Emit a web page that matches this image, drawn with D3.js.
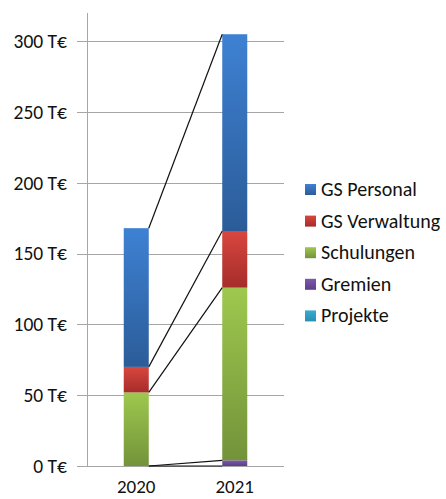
<!DOCTYPE html>
<html><head><meta charset="utf-8">
<script src="https://cdn.jsdelivr.net/npm/d3@7"></script>
<style>body{margin:0;background:#fff;} text{font-family:Carlito,Lato,"Open Sans",sans-serif;fill:#111;}</style>
</head><body>
<svg id="c" width="446" height="499"></svg>
<script>
const years = ["2020", "2021"];
const seriesNames = ["Projekte", "Gremien", "Schulungen", "GS Verwaltung", "GS Personal"];
const projekte = [0, 0];
const gremien = [0, 4];
const schulungen = [52, 122];
const verwaltung = [18, 40];
const personal = [98, 139];
const yTicks = [0, 50, 100, 150, 200, 250, 300];
const colorsTop = ["#38acd3", "#7d58ad", "#9ec84e", "#d9463f", "#3e81d3"];
const colorsBot = ["#2a8db0", "#5d3f88", "#73933a", "#a52d2a", "#2b5c98"];

const values = [projekte, gremien, schulungen, verwaltung, personal];
const table = years.map((y, i) => {
  const o = {year: y};
  seriesNames.forEach((s, k) => o[s] = values[k][i]);
  return o;
});
const stack = d3.stack().keys(seriesNames)(table);

const svg = d3.select("#c");
const x = d3.scaleBand().domain(years).range([87, 284]).paddingInner(0.746).paddingOuter(0.373);
const y = d3.scaleLinear().domain([0, 320]).range([466, 13]);

const defs = svg.append("defs");
seriesNames.forEach((s, k) => {
  const g = defs.append("linearGradient").attr("id", "g" + k).attr("x1", 0).attr("y1", 0).attr("x2", 0).attr("y2", 1);
  g.append("stop").attr("offset", "0%").attr("stop-color", colorsTop[k]);
  g.append("stop").attr("offset", "100%").attr("stop-color", colorsBot[k]);
});

// gridlines
svg.append("g").selectAll("line").data(yTicks).join("line")
  .attr("x1", 77).attr("x2", 284)
  .attr("y1", d => Math.round(y(d)) + 0.5).attr("y2", d => Math.round(y(d)) + 0.5)
  .attr("stroke", "#a6a6a6").attr("stroke-width", 1);
// axis line
svg.append("line").attr("x1", 87.5).attr("x2", 87.5).attr("y1", 13).attr("y2", 466)
  .attr("stroke", "#a6a6a6");
// tick labels
svg.append("g").selectAll("text").data(yTicks).join("text")
  .attr("x", 67).attr("y", d => y(d)).attr("dy", "0.35em")
  .attr("text-anchor", "end").attr("font-size", 19.5)
  .text(d => d + " T€");

// bars
stack.forEach((layer, k) => {
  svg.append("g").selectAll("rect").data(layer).join("rect")
    .attr("x", d => x(d.data.year)).attr("width", x.bandwidth())
    .attr("y", d => y(d[1])).attr("height", d => y(d[0]) - y(d[1]))
    .attr("fill", "url(#g" + k + ")");
});

// series lines
stack.forEach((layer) => {
  svg.append("line")
    .attr("x1", x(years[0]) + x.bandwidth()).attr("y1", y(layer[0][1]))
    .attr("x2", x(years[1])).attr("y2", y(layer[1][1]))
    .attr("stroke", "#111").attr("stroke-width", 1.2);
});

// x labels
svg.append("g").selectAll("text").data(years).join("text")
  .attr("x", d => x(d) + x.bandwidth() / 2).attr("y", 486).attr("dy", "0.35em")
  .attr("text-anchor", "middle").attr("font-size", 19).text(d => d);

// legend
const legendOrder = seriesNames.map((s, k) => k).reverse();
const lg = svg.append("g").selectAll("g").data(legendOrder).join("g")
  .attr("transform", (k, i) => `translate(305, ${189 + i * 31.6})`);
lg.append("rect").attr("x", 0).attr("y", -5).attr("width", 11).attr("height", 11)
  .attr("fill", k => "url(#g" + k + ")");
lg.append("text").attr("x", 16).attr("y", 0).attr("dy", "0.35em").attr("font-size", 20)
  .text(k => seriesNames[k]);
</script>
</body></html>
